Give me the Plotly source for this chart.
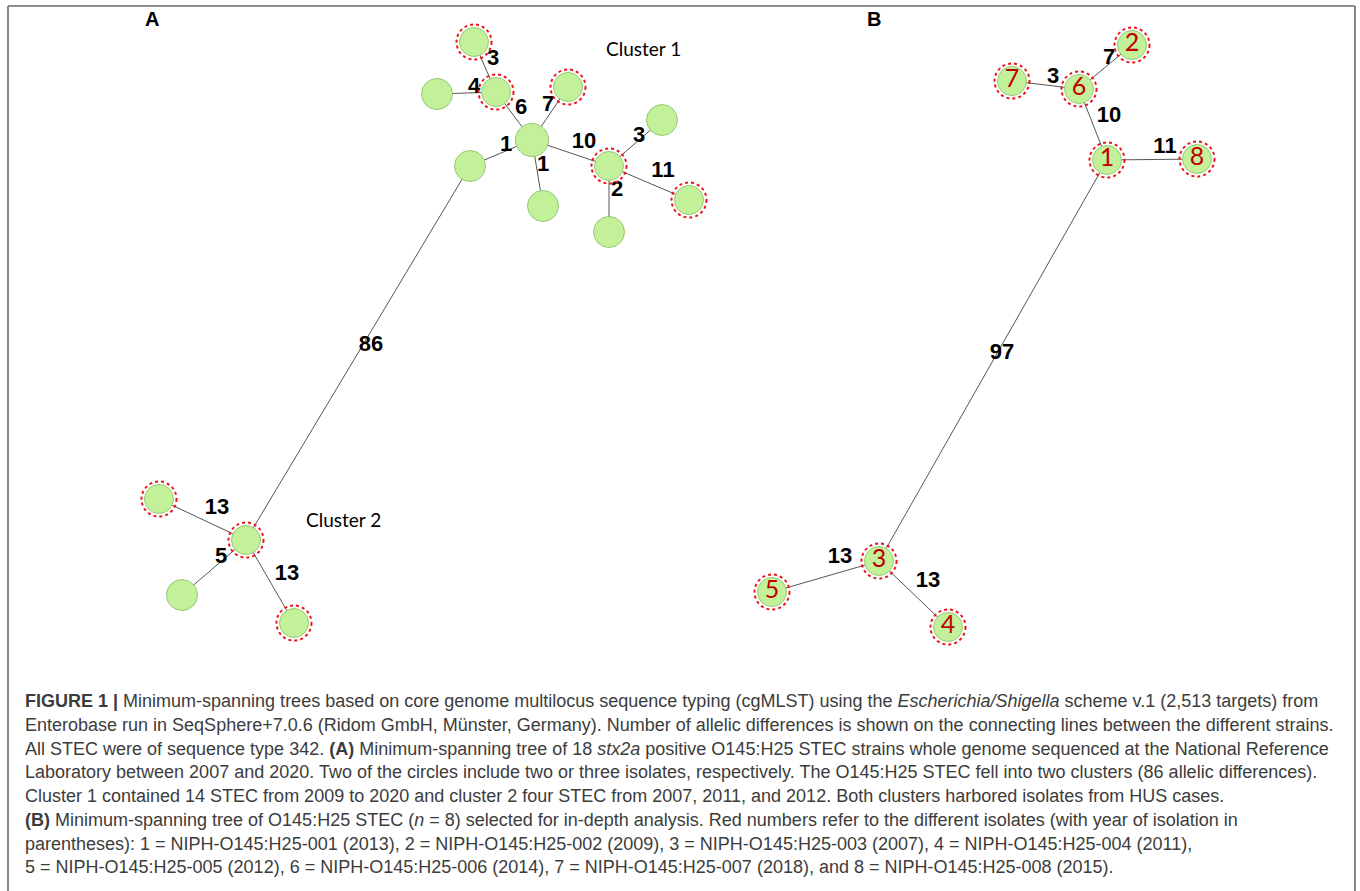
import plotly.graph_objects as go

# ---------------- Panel A data ----------------
a_node_x = [532, 474, 496, 437, 568, 470, 543, 609, 662, 689, 609, 246, 159, 182, 294]
a_node_y = [140, 42, 92, 94, 87, 166, 206, 166, 120, 200, 232, 540, 499, 595, 623]
a_node_ring = [0, 1, 1, 0, 1, 0, 0, 1, 0, 1, 0, 1, 1, 0, 1]
a_node_big = [1, 0, 0, 0, 0, 0, 0, 0, 0, 0, 0, 0, 0, 0, 0]
a_edge_from = [1, 3, 2, 4, 5, 6, 0, 7, 7, 7, 5, 12, 13, 14]
a_edge_to = [2, 2, 0, 0, 0, 0, 7, 8, 9, 10, 11, 11, 11, 11]
a_edge_diff = [3, 4, 6, 7, 1, 1, 10, 3, 11, 2, 86, 13, 5, 13]
a_label_x = [493, 474, 521, 548, 506, 543, 584, 639, 663, 617, 371, 217, 221, 287]
a_label_y = [59, 87, 108, 105, 145, 165, 142, 136, 171, 190, 345, 508, 557, 574]

# ---------------- Panel B data ----------------
b_node_names = ["1", "2", "3", "4", "5", "6", "7", "8"]
b_node_x = [1107, 1132, 879, 948, 772, 1079, 1012, 1197]
b_node_y = [160, 45, 561, 627, 592, 89, 81, 159]
b_edge_from = [5, 6, 5, 0, 0, 2, 2]
b_edge_to = [1, 5, 0, 7, 2, 4, 3]
b_edge_diff = [7, 3, 10, 11, 97, 13, 13]
b_label_x = [1109, 1053, 1109, 1165, 1002, 840, 928]
b_label_y = [58, 77, 116, 147, 353, 557, 581]

panel_letters = ["A", "B"]
cluster_names = ["Cluster 1", "Cluster 2"]

caption_lines = [
    "<b>FIGURE 1 |</b> Minimum-spanning trees based on core genome multilocus sequence typing (cgMLST) using the <i>Escherichia/Shigella</i> scheme v.1 (2,513 targets) from",
    "Enterobase run in SeqSphere+7.0.6 (Ridom GmbH, Münster, Germany). Number of allelic differences is shown on the connecting lines between the different strains.",
    "All STEC were of sequence type 342. <b>(A)</b> Minimum-spanning tree of 18 <i>stx2a</i> positive O145:H25 STEC strains whole genome sequenced at the National Reference",
    "Laboratory between 2007 and 2020. Two of the circles include two or three isolates, respectively. The O145:H25 STEC fell into two clusters (86 allelic differences).",
    "Cluster 1 contained 14 STEC from 2009 to 2020 and cluster 2 four STEC from 2007, 2011, and 2012. Both clusters harbored isolates from HUS cases.",
    "<b>(B)</b> Minimum-spanning tree of O145:H25 STEC (<i>n</i> = 8) selected for in-depth analysis. Red numbers refer to the different isolates (with year of isolation in",
    "parentheses): 1 = NIPH-O145:H25-001 (2013), 2 = NIPH-O145:H25-002 (2009), 3 = NIPH-O145:H25-003 (2007), 4 = NIPH-O145:H25-004 (2011),",
    "5 = NIPH-O145:H25-005 (2012), 6 = NIPH-O145:H25-006 (2014), 7 = NIPH-O145:H25-007 (2018), and 8 = NIPH-O145:H25-008 (2015).",
]

# ---------------- styles ----------------
FILL = "#c3f199"
NODE_EDGE = "#98c878"
RING = "#e8141a"
EDGE_COL = "#555555"
W, H = 1360, 891

fig = go.Figure()


def add_edges(xs, ys, frm, to):
    ex, ey = [], []
    for f, t in zip(frm, to):
        ex += [xs[f], xs[t], None]
        ey += [ys[f], ys[t], None]
    fig.add_trace(go.Scatter(x=ex, y=ey, mode="lines",
                             line=dict(color=EDGE_COL, width=1),
                             hoverinfo="skip", showlegend=False))


add_edges(a_node_x, a_node_y, a_edge_from, a_edge_to)
add_edges(b_node_x, b_node_y, b_edge_from, b_edge_to)

# nodes panel A
a_sizes = [33 if big else (29 if ring else 31) for big, ring in zip(a_node_big, a_node_ring)]
fig.add_trace(go.Scatter(x=a_node_x, y=a_node_y, mode="markers",
                         marker=dict(size=a_sizes, color=FILL, opacity=1,
                                     line=dict(color=NODE_EDGE, width=1)),
                         hoverinfo="skip", showlegend=False))

# nodes panel B
fig.add_trace(go.Scatter(x=b_node_x, y=b_node_y, mode="markers+text",
                         text=b_node_names, textposition="middle center",
                         textfont=dict(family="Lato, Carlito, sans-serif", size=25, color="#c00000"),
                         marker=dict(size=29, color=FILL, opacity=1,
                                     line=dict(color=NODE_EDGE, width=1)),
                         hoverinfo="skip", showlegend=False))

# edge labels
fig.add_trace(go.Scatter(x=a_label_x + b_label_x, y=a_label_y + b_label_y, mode="text",
                         text=[f"<b>{d}</b>" for d in a_edge_diff + b_edge_diff],
                         textposition="middle center",
                         textfont=dict(family="Liberation Sans, Arial, sans-serif", size=22, color="#000000"),
                         hoverinfo="skip", showlegend=False))

# red dotted rings
shapes = []
R = 17.5
ring_x = [x for x, r in zip(a_node_x, a_node_ring) if r] + b_node_x
ring_y = [y for y, r in zip(a_node_y, a_node_ring) if r] + b_node_y
for cx, cy in zip(ring_x, ring_y):
    shapes.append(dict(type="circle", xref="x", yref="y",
                       x0=cx - R, x1=cx + R, y0=cy - R, y1=cy + R,
                       line=dict(color=RING, width=2, dash="dot"), layer="above"))

# frame
for (x0, y0, x1, y1) in [(8, 6, 1355, 6), (8, 6, 8, H), (1355, 6, 1355, H)]:
    shapes.append(dict(type="line", xref="x", yref="y", x0=x0, y0=y0, x1=x1, y1=y1,
                       line=dict(color="#6a6a6a", width=1.6)))

annotations = []
for letter, lx in zip(panel_letters, [152, 874]):
    annotations.append(dict(x=lx, y=19, xref="x", yref="y", text=f"<b>{letter}</b>",
                            showarrow=False, font=dict(family="Liberation Sans, Arial", size=20, color="#000")))
for name, (cx, cy) in zip(cluster_names, [(643, 48), (343, 519)]):
    annotations.append(dict(x=cx, y=cy, xref="x", yref="y", text=name, showarrow=False,
                            font=dict(family="Lato, Carlito, sans-serif", size=19, color="#000")))

for i, line in enumerate(caption_lines):
    annotations.append(dict(x=23, y=701 + i * 23.75, xref="x", yref="y", text=line,
                            showarrow=False, xanchor="left", yanchor="middle",
                            font=dict(family="Liberation Sans, Arial", size=18,
                                      color="#3c3c3c")))

fig.update_layout(
    width=W, height=H, margin=dict(l=0, r=0, t=0, b=0),
    paper_bgcolor="white", plot_bgcolor="white",
    xaxis=dict(range=[0, W], visible=False, fixedrange=True),
    yaxis=dict(range=[H, 0], visible=False, fixedrange=True),
    shapes=shapes, annotations=annotations,
)

# place the figure at the window's top-left corner (no default page margin)
fig.write_html("out.html", config={"displayModeBar": False},
               post_script="document.body.style.margin='0';document.body.style.overflow='hidden';")
